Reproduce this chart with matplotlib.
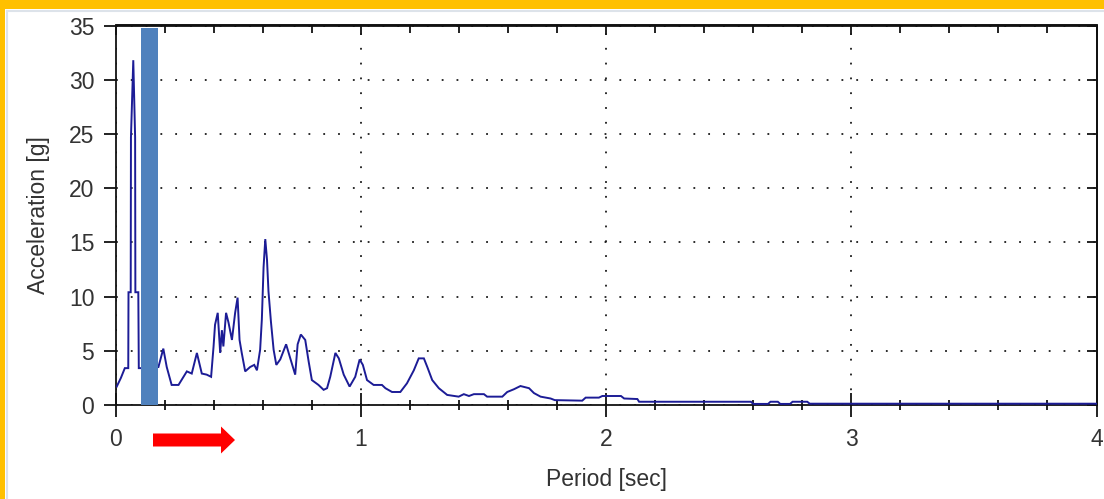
import matplotlib
matplotlib.use("Agg")
import matplotlib.pyplot as plt
from matplotlib.patches import Rectangle, FancyArrow
from matplotlib.transforms import IdentityTransform
from matplotlib.ticker import MultipleLocator

# ---- data ----
period = [0.003, 0.02, 0.036, 0.050, 0.051, 0.060, 0.061, 0.0705, 0.078, 0.079,
          0.091, 0.093, 0.120, 0.170, 0.173, 0.193, 0.207, 0.227, 0.255, 0.289,
          0.309, 0.330, 0.350, 0.370, 0.388, 0.398, 0.404, 0.415, 0.425, 0.432,
          0.438, 0.449, 0.459, 0.473, 0.486, 0.496, 0.504, 0.513, 0.527, 0.547,
          0.564, 0.575, 0.588, 0.595, 0.602, 0.609, 0.616, 0.622, 0.632, 0.643,
          0.654, 0.670, 0.694, 0.711, 0.731, 0.741, 0.754, 0.772, 0.786, 0.799,
          0.826, 0.847, 0.861, 0.874, 0.895, 0.909, 0.929, 0.953, 0.976, 0.994,
          1.007, 1.024, 1.051, 1.085, 1.099, 1.126, 1.160, 1.187, 1.215, 1.235,
          1.256, 1.270, 1.290, 1.317, 1.351, 1.398, 1.419, 1.440, 1.460, 1.501,
          1.514, 1.576, 1.596, 1.623, 1.650, 1.685, 1.705, 1.732, 1.773, 1.790,
          1.902, 1.916, 1.970, 1.984, 2.060, 2.073, 2.127, 2.134, 2.400, 2.590,
          2.600, 2.660, 2.670, 2.700, 2.710, 2.750, 2.760, 2.820, 2.830, 4.000]
accel = [1.7, 2.5, 3.4, 3.4, 10.4, 10.4, 24.7, 31.8, 24.7, 10.4,
         10.4, 3.4, 3.4, 3.5, 3.5, 5.2, 3.5, 1.85, 1.85, 3.1,
         2.9, 4.8, 2.9, 2.8, 2.6, 5.4, 7.4, 8.5, 4.8, 6.9,
         5.4, 8.5, 7.6, 6.0, 8.5, 9.9, 6.0, 4.8, 3.1, 3.5,
         3.7, 3.2, 5.1, 7.9, 12.7, 15.3, 13.4, 10.5, 7.7, 5.1,
         3.7, 4.2, 5.6, 4.3, 2.8, 5.6, 6.5, 6.0, 4.0, 2.3,
         1.85, 1.4, 1.55, 2.6, 4.8, 4.3, 2.8, 1.7, 2.6, 4.2,
         3.7, 2.3, 1.85, 1.85, 1.55, 1.2, 1.2, 2.0, 3.2, 4.3,
         4.3, 3.5, 2.3, 1.55, 0.93, 0.77, 1.0, 0.83, 1.0, 1.0,
         0.77, 0.77, 1.2, 1.45, 1.75, 1.55, 1.1, 0.77, 0.6, 0.45,
         0.4, 0.68, 0.68, 0.83, 0.83, 0.6, 0.55, 0.3, 0.3, 0.3,
         0.1, 0.1, 0.3, 0.3, 0.1, 0.1, 0.3, 0.3, 0.12, 0.12]

x_ticks = [0, 1, 2, 3, 4]
x_tick_labels = ["0", "1", "2", "3", "4"]
y_ticks = [0, 5, 10, 15, 20, 25, 30, 35]
y_tick_labels = ["0", "5", "10", "15", "20", "25", "30", "35"]
highlight_span = (0.102, 0.172)
highlight_top = 34.75

FONT = ["Liberation Sans", "DejaVu Sans"]
plt.rcParams["font.family"] = FONT
TXT = "#333333"

W, H = 1104, 499
fig = plt.figure(figsize=(W / 100, H / 100), dpi=100)
fig.patch.set_facecolor("white")

# yellow frame (top and left) + faint gray inner line
fig.add_artist(Rectangle((0, (H - 9) / H), 1, 9 / H, transform=fig.transFigure,
                         facecolor="#FFC000", edgecolor="none", zorder=0))
fig.add_artist(Rectangle((0, 0), 5 / W, 1, transform=fig.transFigure,
                         facecolor="#FFC000", edgecolor="none", zorder=0))
fig.add_artist(plt.Line2D([7 / W, 1], [(H - 11) / H, (H - 11) / H], transform=fig.transFigure,
                          color="#dde3ea", lw=1.5))
fig.add_artist(plt.Line2D([7 / W, 7 / W], [0, (H - 11) / H], transform=fig.transFigure,
                          color="#dde3ea", lw=1.5))

x0, x1 = 116, 1096.5
y_top, y_bot = 25.5, 405
ax = fig.add_axes([x0 / W, (H - y_bot) / H, (x1 - x0) / W, (y_bot - y_top) / H])
ax.set_xlim(0, 4)
ax.set_ylim(0, 35)

ax.plot(period, accel, color="#1c1c96", lw=1.4, zorder=3, solid_joinstyle="miter")

ax.add_patch(Rectangle((highlight_span[0], 0), highlight_span[1] - highlight_span[0], highlight_top,
                       facecolor="#4F81BD", edgecolor="none", zorder=4, clip_on=False))

for s in ax.spines.values():
    s.set_linewidth(1.3)
    s.set_color("#111111")

ax.set_xticks(x_ticks)
ax.set_xticklabels(x_tick_labels)
ax.set_yticks(y_ticks)
ax.set_yticklabels(y_tick_labels)
ax.xaxis.set_minor_locator(MultipleLocator(0.2))

ax.tick_params(axis="x", which="major", direction="inout", length=17, width=1.3,
               pad=8, labelsize=16.5, labelcolor=TXT, top=False, color="#111111")
ax.tick_params(axis="x", which="minor", direction="inout", length=7, width=1.3, top=False,
               color="#111111")
ax.tick_params(axis="y", which="major", direction="out", length=8.6, width=1.3,
               pad=7, labelsize=16.5, labelcolor=TXT, right=False, color="#111111")

secx = ax.secondary_xaxis("top")
secx.set_xticks(x_ticks)
secx.xaxis.set_minor_locator(MultipleLocator(0.2))
secx.tick_params(which="major", direction="in", length=7.2, width=1.3, labeltop=False, color="#111111")
secx.tick_params(which="minor", direction="in", length=5.8, width=1.3, color="#111111")
secx.spines["top"].set_linewidth(1.3)

secy = ax.secondary_yaxis("right")
secy.set_yticks(y_ticks)
secy.tick_params(which="major", direction="in", length=7.2, width=1.3, labelright=False, color="#111111")
secy.spines["right"].set_linewidth(1.3)

ax.grid(True, which="major", color="#1a1a1a", lw=1.3, linestyle=(0, (1, 7.2)))

ax.set_xlabel("Period [sec]", fontsize=16.5, color=TXT, labelpad=12)
ax.set_ylabel("Acceleration [g]", fontsize=16.5, color=TXT)
ax.yaxis.set_label_coords(-0.067, 0.5)

# red arrow (annotation) in display pixels
arrow = FancyArrow(153, H - 440, 82, 0, width=13, head_width=27, head_length=14,
                   length_includes_head=True, transform=IdentityTransform(),
                   facecolor="#FF0000", edgecolor="none")
fig.add_artist(arrow)

fig.savefig("out.png", dpi=100, facecolor=fig.get_facecolor())
